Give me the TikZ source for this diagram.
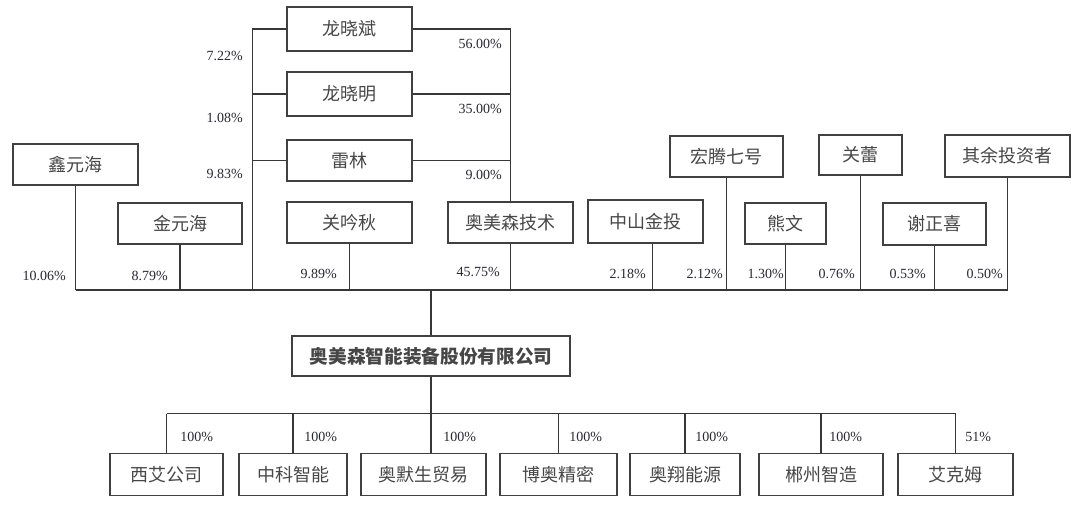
\documentclass[tikz,border=0pt]{standalone}
\usepackage{fontspec}
\setmainfont{Liberation Serif}
\newfontfamily\cjk{Noto Sans CJK SC}
\usetikzlibrary{calc}

\tikzset{
  holder/.style={draw={rgb, 255:red, 64; green, 64; blue, 64}, line width=1.1pt, inner sep=0pt,
    text={rgb, 255:red, 70; green, 70; blue, 70}, font=\cjk\fontsize{13.5}{15}\selectfont},
  wh/.style 2 args={minimum width=#1*0.75pt, minimum height=#2*0.75pt},
  pct/.style={anchor=east, inner sep=0pt, text={rgb, 255:red, 40; green, 40; blue, 50},
    font=\fontsize{10.5}{12}\selectfont},
  subpct/.style={pct, anchor=west},
  link/.style={draw={rgb, 255:red, 55; green, 55; blue, 55}, line width=1pt}
}

\begin{document}
\begin{tikzpicture}[x=0.75pt,y=0.75pt,yscale=-1,xscale=1]
\useasboundingbox (0,0) rectangle (1080,505);

%Family shareholders
\node [holder, wh={125}{44}] (lxb) at (349.5,29) {龙晓斌};
\node [holder, wh={125}{44}] (lxm) at (349.5,94) {龙晓明};
\node [holder, wh={125}{41}] (lei) at (349.5,160.5) {雷林};
\node [holder, wh={125}{41}] (gyq) at (349.5,222.5) {关吟秋};
\node [holder, wh={125}{41}] (amsj) at (510.5,222.5) {奥美森技术};

%Other shareholders
\node [holder, wh={125}{41}] (xyh) at (75.5,164.5) {鑫元海};
\node [holder, wh={124}{41}] (jyh) at (180,223.5) {金元海};
\node [holder, wh={115}{43}] (zsjt) at (645.5,221.5) {中山金投};
\node [holder, wh={113}{41}] (htqh) at (726.5,156.5) {宏腾七号};
\node [holder, wh={81}{41}] (xw) at (785.5,223.5) {熊文};
\node [holder, wh={83}{40}] (gl) at (860.5,155) {关蕾};
\node [holder, wh={103}{42}] (xzx) at (934.5,224) {谢正喜};
\node [holder, wh={125}{42}] (qytz) at (1007.5,156) {其余投资者};

%Company
\node [holder, wh={278}{40}, font=\cjk\bfseries\fontsize{14}{16}\selectfont] (ams) at (431,356) {奥美森智能装备股份有限公司};

%Subsidiaries
\node [holder, wh={113}{42}] (xags) at (166.5,474.5) {西艾公司};
\node [holder, wh={108}{42}] (zkzn) at (293,474.5) {中科智能};
\node [holder, wh={125}{42}] (amsm) at (423.5,474.5) {奥默生贸易};
\node [holder, wh={117}{42}] (bajm) at (558.5,474.5) {博奥精密};
\node [holder, wh={110}{42}] (axny) at (685,474.5) {奥翔能源};
\node [holder, wh={124}{42}] (czzz) at (821,474.5) {郴州智造};
\node [holder, wh={115}{42}] (akm) at (955.5,474.5) {艾克姆};

\coordinate (bus) at (431,290);
\coordinate (sub) at (431,413.5);

%Family lines
\draw [link] (lxb.west) -- ++(-34,0) coordinate (famL) -- (famL |- bus);
\draw [link] (lxm.west) -- (lxm.west -| famL);
\draw [link] (lei.west) -- (lei.west -| famL);
\draw [link] (lxb.east) -- (lxb.east -| amsj.north) -- (amsj.north);
\draw [link] (lxm.east) -- (lxm.east -| amsj.north);
\draw [link] (lei.east) -- (lei.east -| amsj.north);

%Shareholder bus
\draw [link] (xyh.south |- bus) -- (qytz.south |- bus);
\foreach \h in {xyh,jyh,gyq,amsj,htqh,xw,gl,xzx,qytz}
  \draw [link] (\h.south) -- (\h.south |- bus);
\draw [link] ([xshift=5]zsjt.south) -- ([xshift=5]zsjt.south |- bus);
\draw [link] (bus) -- (ams.north);

%Subsidiary bus
\draw [link] (ams.south) -- (sub);
\draw [link] (sub -| xags.north) -- (sub -| akm.north);
\foreach \s in {xags,zkzn,bajm,axny,czzz,akm}
  \draw [link] (sub -| \s.north) -- (\s.north);
\draw [link] (sub) -- (sub |- amsm.north);

%Percentages
\node [pct] (p1) at (243,56) {7.22\%};
\node [pct] (p2) at (243,118) {1.08\%};
\node [pct] (p3) at (243,174) {9.83\%};
\node [pct] (p4) at (502,44) {56.00\%};
\node [pct] (p5) at (502,109) {35.00\%};
\node [pct] (p6) at (502,175) {9.00\%};
\node [pct] (p7) at (66,276) {10.06\%};
\node [pct] (p8) at (168,276) {8.79\%};
\node [pct] (p9) at (337,274) {9.89\%};
\node [pct] (p10) at (500,272) {45.75\%};
\node [pct] (p11) at (646,274) {2.18\%};
\node [pct] (p12) at (723,274) {2.12\%};
\node [pct] (p13) at (784,274) {1.30\%};
\node [pct] (p14) at (855,274) {0.76\%};
\node [pct] (p15) at (926,274) {0.53\%};
\node [pct] (p16) at (1003,274) {0.50\%};

\node [subpct] (s1) at (180,437) {100\%};
\node [subpct] (s2) at (304,437) {100\%};
\node [subpct] (s3) at (443,437) {100\%};
\node [subpct] (s4) at (569,437) {100\%};
\node [subpct] (s5) at (695,437) {100\%};
\node [subpct] (s6) at (829,437) {100\%};
\node [subpct] (s7) at (965,437) {51\%};

\end{tikzpicture}
\end{document}
